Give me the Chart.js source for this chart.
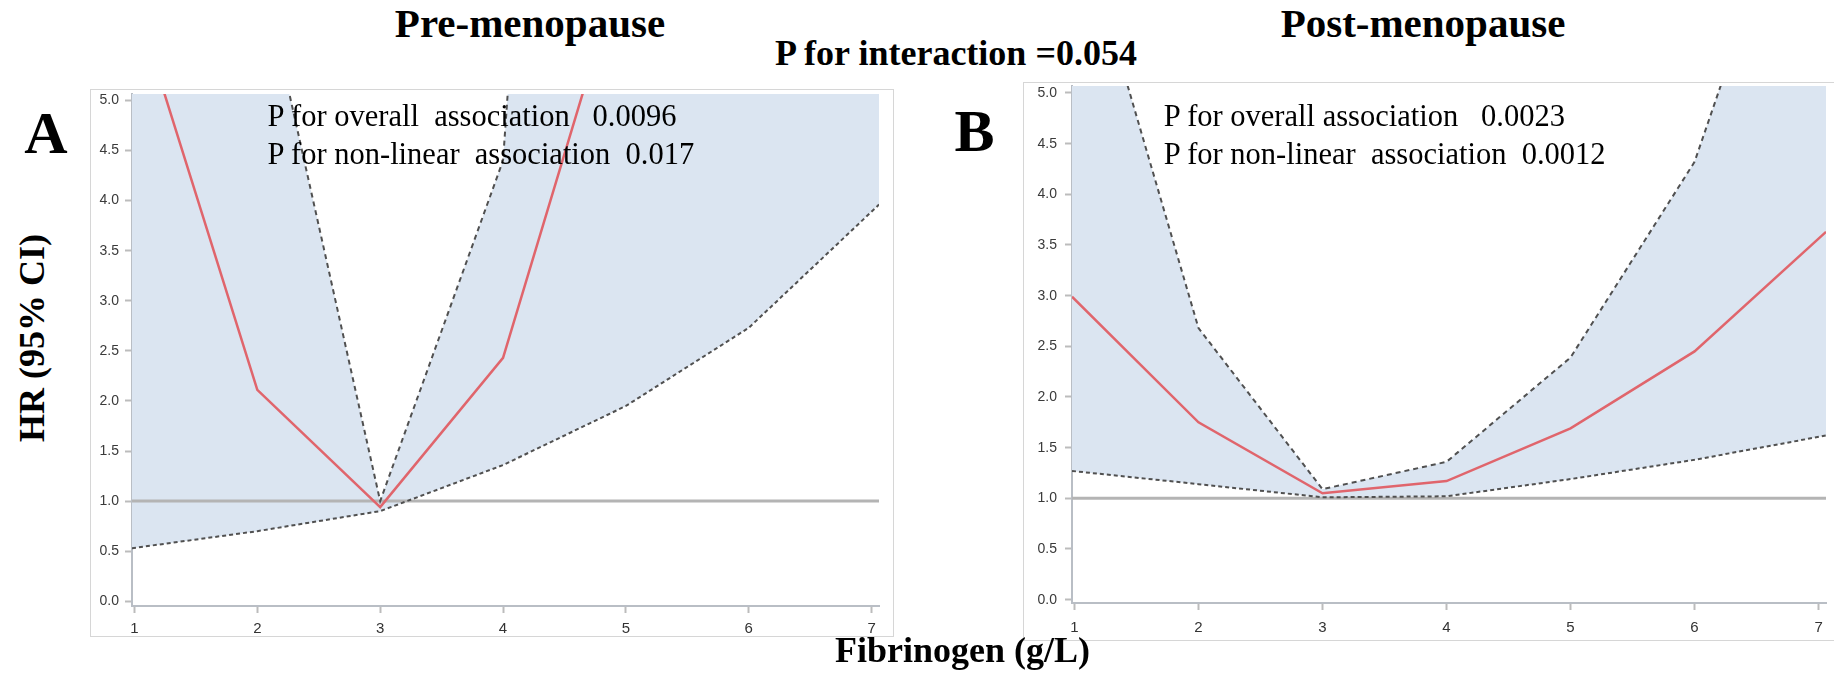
<!DOCTYPE html>
<html><head><meta charset="utf-8">
<script src="https://cdn.jsdelivr.net/npm/chart.js@4.4.1/dist/chart.umd.min.js"></script>
<style>
html,body{margin:0;padding:0;background:#fff;width:1834px;height:673px;overflow:hidden;position:relative;}
.t{position:absolute;white-space:pre;line-height:1;font-family:"Liberation Serif","Times New Roman",serif;color:#000;}
.b{font-weight:bold;}
.c{transform:translateX(-50%);}
.frame{position:absolute;border:1px solid #d6d6d6;box-sizing:border-box;}
canvas{position:absolute;}
</style></head><body>
<div class="frame" style="left:90px;top:89px;width:804px;height:548px;"></div>
<canvas id="pre" width="802" height="546" style="left:91px;top:90px;"></canvas>
<div class="frame" style="left:1023px;top:82px;width:812px;height:559px;"></div>
<canvas id="post" width="810" height="557" style="left:1024px;top:83px;"></canvas>

<div class="t b c" style="font-size:41px;left:530px;top:2.7px;">Pre-menopause</div>
<div class="t b c" style="font-size:41px;left:1423px;top:2.7px;">Post-menopause</div>
<div class="t b c" style="font-size:36px;left:956px;top:34.9px;">P for interaction =0.054</div>
<div class="t b c" style="font-size:60px;left:46px;top:102.8px;">A</div>
<div class="t b c" style="font-size:60px;left:974.5px;top:100.8px;">B</div>
<div class="t b c" style="font-size:36px;left:962.6px;top:631.9px;">Fibrinogen (g/L)</div>
<div class="t b" style="font-size:36px;left:31.9px;top:337.5px;transform:translate(-50%,-50%) rotate(-90deg);">HR (95% CI)</div>

<div class="t" style="font-size:30.5px;left:267.6px;top:101.2px;">P for overall  association   0.0096</div>
<div class="t" style="font-size:30.5px;left:267.6px;top:138.5px;">P for non-linear  association  0.017</div>
<div class="t" style="font-size:30.5px;left:1163.7px;top:101.2px;">P for overall association   0.0023</div>
<div class="t" style="font-size:30.5px;left:1163.7px;top:138.5px;">P for non-linear  association  0.0012</div>

<script>
// ---- data ----
const fibrinogen = [0.98, 2, 3, 4, 5, 6, 7.06];
const xTicks = [1, 2, 3, 4, 5, 6, 7];
const yTicks = [0, 0.5, 1, 1.5, 2, 2.5, 3, 3.5, 4, 4.5, 5];
const refHR = 1.0;

const preHR    = [6.10, 2.11, 0.94, 2.43, 6.5, 17, 45];
const preLower = [0.53, 0.70, 0.90, 1.36, 1.95, 2.73, 3.96];
const preUpper = [25, 6.5, 1.00, 4.4, 22, 60, 150];

const postHR    = [2.99, 1.75, 1.05, 1.17, 1.69, 2.45, 3.63];
const postLower = [1.27, 1.14, 1.01, 1.02, 1.19, 1.38, 1.62];
const postUpper = [6.95, 2.68, 1.09, 1.36, 2.39, 4.32, 8.1];

const xMin = 0.98, xMax = 7.06;

function pts(ys) { return fibrinogen.map((x, i) => ({x: x, y: ys[i]})); }

function makeChart(id, hr, lo, up, o) {
  const refLine = [{x: xMin, y: refHR}, {x: xMax, y: refHR}];
  new Chart(document.getElementById(id), {
    type: 'line',
    data: {
      datasets: [
        {data: pts(hr), borderColor: '#e0656c', borderWidth: 2.5, pointRadius: 0, fill: false, clip: 0, tension: 0},
        {data: pts(up), borderColor: '#505050', borderWidth: 2, borderDash: [5, 4], pointRadius: 0,
         fill: '+1', backgroundColor: '#dbe5f1', clip: 0},
        {data: pts(lo), borderColor: '#505050', borderWidth: 2, borderDash: [4, 3], pointRadius: 0, fill: false, clip: 0},
        {data: refLine, borderColor: '#b4b4b4', borderWidth: 3, pointRadius: 0, fill: false, clip: 0}
      ]
    },
    options: {
      responsive: false,
      animation: false,
      devicePixelRatio: 1,
      layout: {padding: {left: 0, top: o.padTop, right: o.padRight, bottom: 0}},
      plugins: {legend: {display: false}, tooltip: {enabled: false}, filler: {drawTime: 'beforeDatasetsDraw'}},
      scales: {
        x: {
          type: 'linear', min: xMin, max: xMax,
          afterBuildTicks: s => { s.ticks = xTicks.map(v => ({value: v})); },
          afterFit: s => { s.height = o.xH; s.paddingLeft = 0; s.paddingRight = 0; },
          grid: {drawOnChartArea: false, drawTicks: true, tickLength: 7, tickWidth: 2, tickColor: '#bcbcbc'},
          border: {display: true, color: '#b9bec5', width: 2},
          ticks: {padding: o.xPad, color: '#333', font: {family: 'Liberation Sans, Arial, sans-serif', size: 15},
                  callback: v => String(v), maxRotation: 0, autoSkip: false}
        },
        y: {
          type: 'linear', min: o.yMin, max: o.yMax, z: 1,
          afterBuildTicks: s => { s.ticks = yTicks.map(v => ({value: v})); },
          afterFit: s => { s.width = o.yW; s.paddingTop = 0; s.paddingBottom = 0; },
          grid: {drawOnChartArea: false, drawTicks: true, tickLength: 7, tickWidth: 2, tickColor: '#bcbcbc'},
          border: {display: true, color: '#b9bec5', width: 2},
          ticks: {padding: o.yPad, color: '#3a3a3a', font: {family: 'Liberation Sans, Arial, sans-serif', size: 14},
                  callback: v => Number(v).toFixed(1), autoSkip: false}
        }
      }
    }
  });
}

makeChart('pre', preHR, preLower, preUpper,
  {yMin: -0.047, yMax: 5.064, yW: 41, padTop: 4, padRight: 14, xH: 30, xPad: 7, yPad: 6});
makeChart('post', postHR, postLower, postUpper,
  {yMin: -0.033, yMax: 5.069, yW: 48, padTop: 3, padRight: 8, xH: 37, xPad: 9, yPad: 8});
</script>
</body></html>
